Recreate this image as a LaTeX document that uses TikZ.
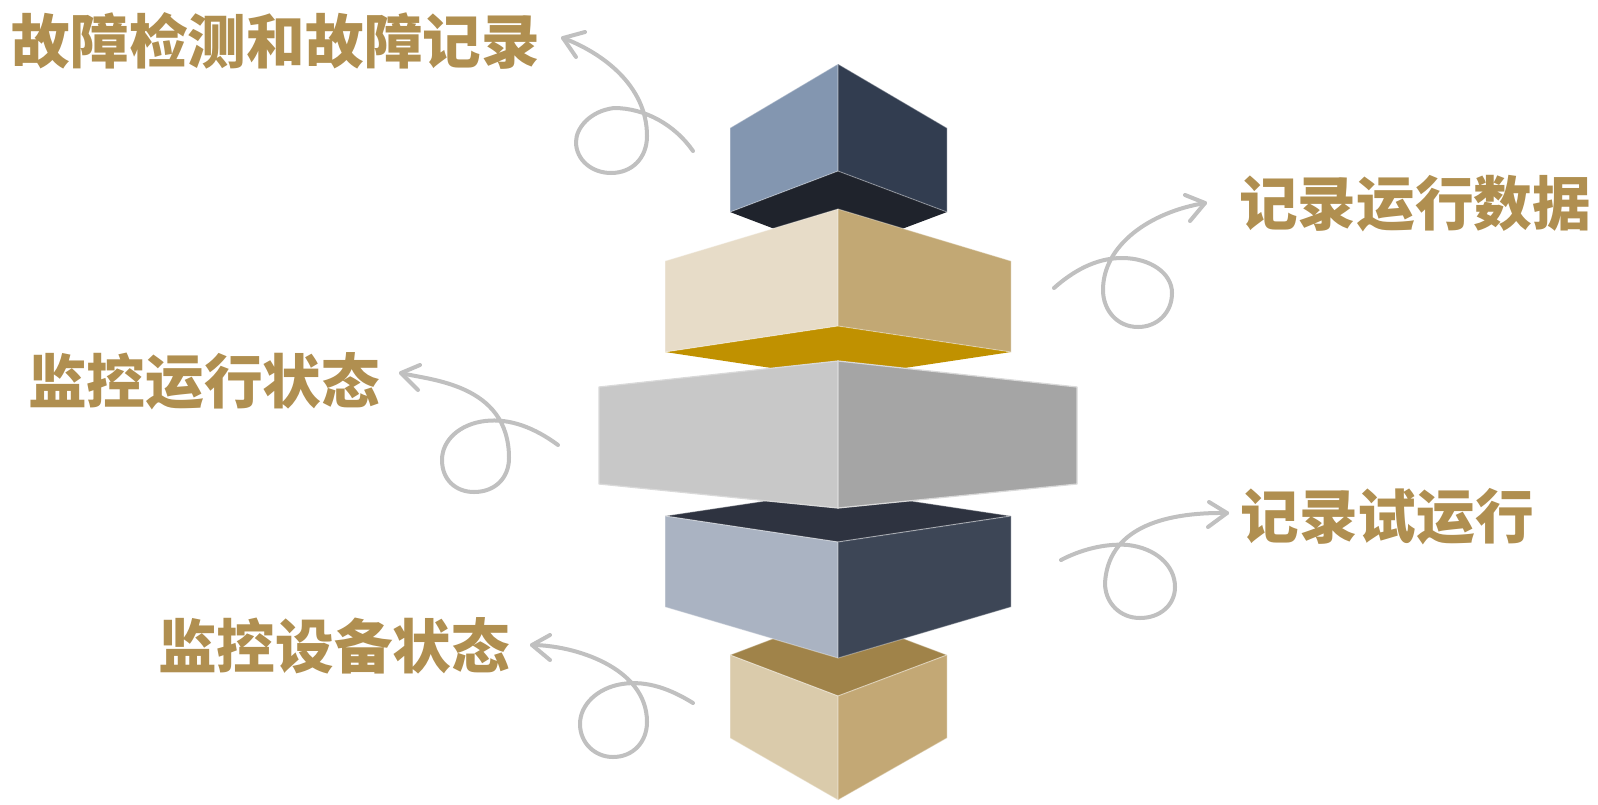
\documentclass[tikz,border=0pt]{standalone}
\usepackage{fontspec}
\newfontfamily\cjk{Noto Sans CJK SC Black}
\definecolor{gold}{RGB}{176,143,80}
\definecolor{curlgray}{RGB}{192,192,192}
\definecolor{cAl}{HTML}{8396B0}
\definecolor{cAr}{HTML}{323D50}
\definecolor{cAb}{HTML}{1F232C}
\definecolor{cBl}{HTML}{E7DCC8}
\definecolor{cBr}{HTML}{C2A874}
\definecolor{cBb}{HTML}{C09100}
\definecolor{cCl}{HTML}{C8C8C8}
\definecolor{cCr}{HTML}{A5A5A5}
\definecolor{cCe}{HTML}{D9D9D9}
\definecolor{cDl}{HTML}{AAB3C2}
\definecolor{cDr}{HTML}{3D4656}
\definecolor{cDt}{HTML}{2E3340}
\definecolor{cEl}{HTML}{DACBAB}
\definecolor{cEr}{HTML}{C3A875}
\definecolor{cEt}{HTML}{A08349}
\tikzset{
  face/.style={line width=0.75pt, draw=white, draw opacity=0.35, line join=round},
  grayface/.style={line width=0.9pt, draw=cCe, line join=round},
  curl/.style={draw=curlgray, line width=3pt, line cap=round, line join=round},
  lbl/.style={text=gold, font=\cjk\fontsize{44}{44}\selectfont, inner sep=0pt, anchor=center}
}
\begin{document}
\begin{tikzpicture}[x=0.75pt,y=-0.75pt]
\useasboundingbox (0,0) rectangle (1598,804);
\fill[white] (0,0) rectangle (1598,804);

% ---- box 1 (top cube)
\fill[cAb] (730,212) -- (838,171) -- (947,212) -- (838,253) -- cycle;
\filldraw[face, fill=cAl] (730,128) -- (838,64) -- (838,171) -- (730,212) -- cycle;
\filldraw[face, fill=cAr] (838,64) -- (947,128) -- (947,212) -- (838,171) -- cycle;

% ---- box 2 (tan)
\fill[cBb] (665,352) -- (838,326) -- (1011,352) -- (838,378) -- cycle;
\filldraw[face, fill=cBl] (665,261) -- (838,209) -- (838,326) -- (665,352) -- cycle;
\filldraw[face, fill=cBr] (838,209) -- (1011,261) -- (1011,352) -- (838,326) -- cycle;

% ---- box 5 (bottom cube)
\filldraw[face, fill=cEt] (730,655) -- (838,614) -- (947,655) -- (838,696) -- cycle;
\filldraw[face, fill=cEl] (730,655) -- (838,696) -- (838,800) -- (730,738) -- cycle;
\filldraw[face, fill=cEr] (838,696) -- (947,655) -- (947,738) -- (838,800) -- cycle;

% ---- box 4 (dark blue)
\filldraw[face, fill=cDt] (665,516) -- (838,490) -- (1011,516) -- (838,542) -- cycle;
\filldraw[face, fill=cDl] (665,516) -- (838,542) -- (838,658) -- (665,607) -- cycle;
\filldraw[face, fill=cDr] (838,542) -- (1011,516) -- (1011,607) -- (838,658) -- cycle;

% ---- box 3 (gray)
\filldraw[grayface, fill=cCl] (599,387) -- (838,361) -- (838,508) -- (599,484) -- cycle;
\filldraw[grayface, fill=cCr] (838,361) -- (1077,387) -- (1077,484) -- (838,508) -- cycle;

% ---- labels
\node[lbl] (t1) at (276,41) {故障检测和故障记录};
\node[lbl] (t2) at (1415,204) {记录运行数据};
\node[lbl] (t3) at (204,381) {监控运行状态};
\node[lbl] (t4) at (1387,517) {记录试运行};
\node[lbl] (t5) at (334,646) {监控设备状态};

% ---- curly arrows
% arrow 1
\coordinate (s1) at (693,151);
\coordinate (e1) at (563,38);
\draw[curl] (s1) .. controls (675,125) and (645,108) .. (614,108)
  .. controls (590,111) and (576,128) .. (576,142)
  .. controls (576,160) and (592,173) .. (611,173)
  .. controls (632,173) and (647,158) .. (647,136)
  .. controls (647,86) and (603,53) .. (e1);
\draw[curl] (585,32) -- (e1) -- (576,57);

% arrow 3
\coordinate (s3) at (558,445);
\coordinate (e3) at (401,373);
\draw[curl] (s3) .. controls (535,428) and (510,418) .. (485,421)
  .. controls (460,424) and (442,440) .. (442,460)
  .. controls (442,480) and (456,492) .. (474,492)
  .. controls (495,492) and (509,478) .. (509,458)
  .. controls (509,383) and (428,380) .. (e3);
\draw[curl] (420,365) -- (e3) -- (418,390);

% arrow 5
\coordinate (s5) at (693,703);
\coordinate (e5) at (532,645);
\draw[curl] (s5) .. controls (672,690) and (648,680) .. (622,684)
  .. controls (597,688) and (580,705) .. (580,724)
  .. controls (580,743) and (595,757) .. (613,757)
  .. controls (633,757) and (647,742) .. (647,722)
  .. controls (647,667) and (573,645) .. (e5);
\draw[curl] (550,635) -- (e5) -- (550,660);

% arrow 2
\coordinate (s2) at (1054,288);
\coordinate (e2) at (1205,203);
\draw[curl] (s2) .. controls (1072,272) and (1095,258) .. (1122,258)
  .. controls (1150,258) and (1172,273) .. (1172,293)
  .. controls (1172,313) and (1157,327) .. (1138,327)
  .. controls (1117,327) and (1103,310) .. (1103,290)
  .. controls (1103,245) and (1150,212) .. (e2);
\draw[curl] (1185,195) -- (e2) -- (1190,221);

% arrow 4
\coordinate (s4) at (1061,560);
\coordinate (e4) at (1227,513);
\draw[curl] (s4) .. controls (1080,550) and (1105,543) .. (1128,545)
  .. controls (1155,548) and (1175,565) .. (1175,587)
  .. controls (1175,605) and (1160,618) .. (1140,618)
  .. controls (1120,618) and (1105,603) .. (1105,583)
  .. controls (1108,530) and (1160,512) .. (e4);
\draw[curl] (1209,502) -- (e4) -- (1208,527);
\end{tikzpicture}
\end{document}
